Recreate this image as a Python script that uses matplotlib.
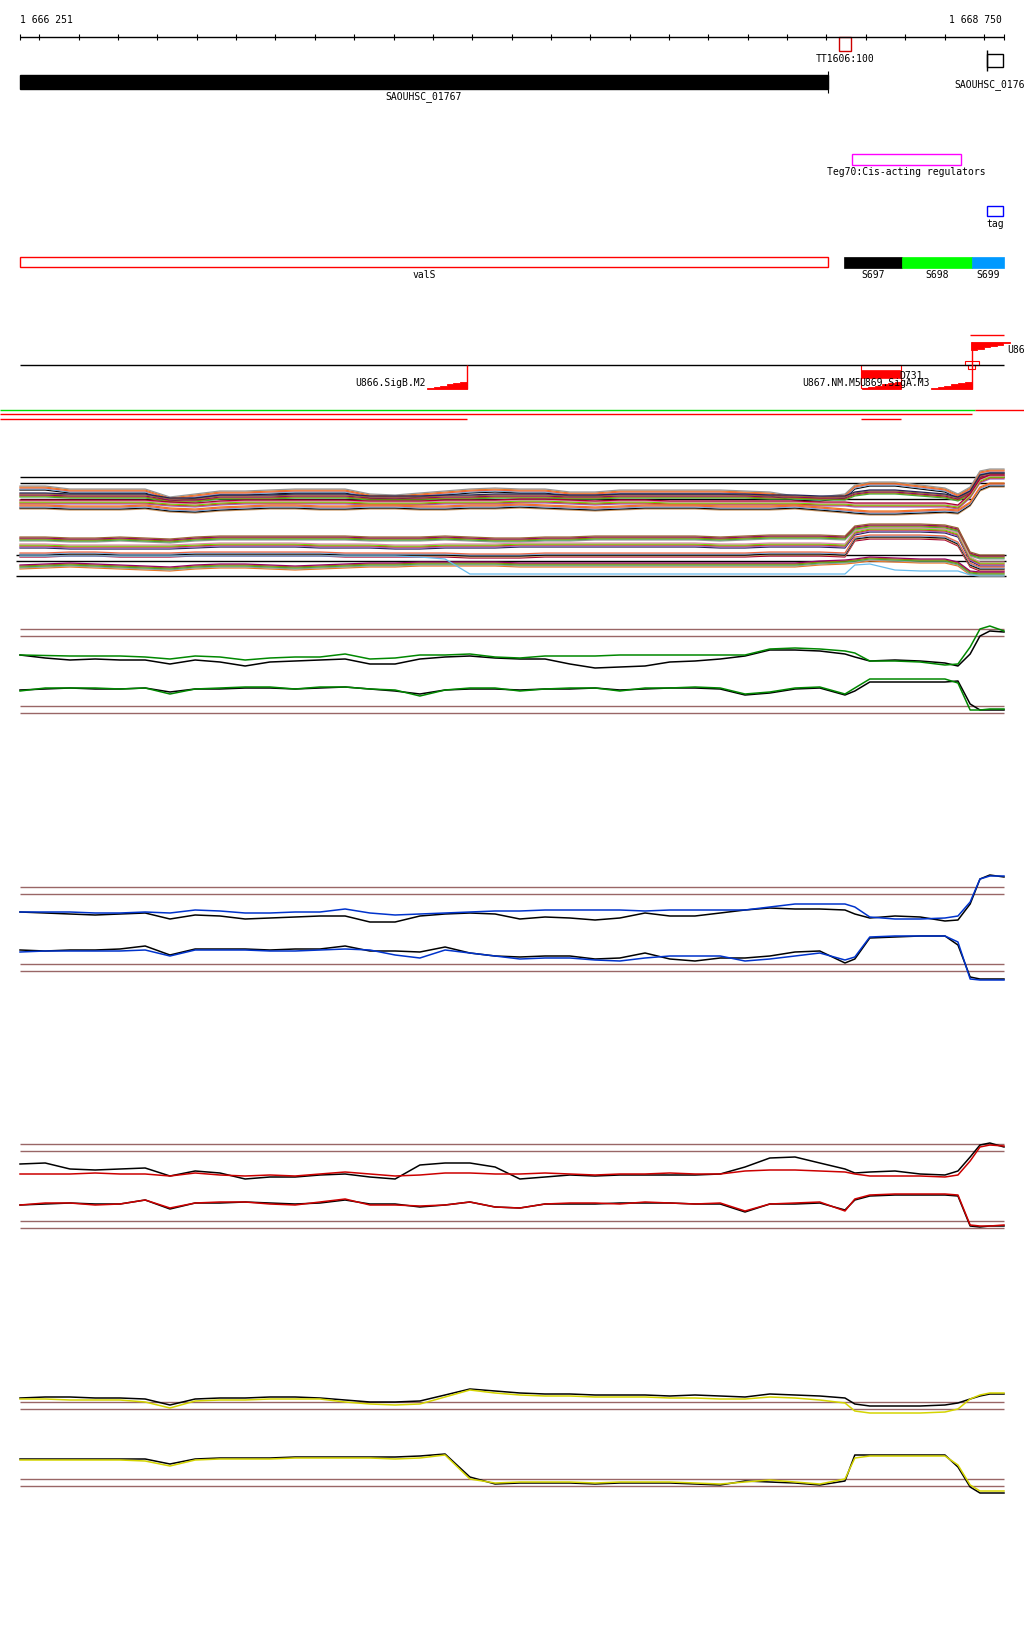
import numpy as np
import matplotlib.pyplot as plt
from matplotlib.patches import Rectangle, Polygon

# genome window shown (bp)
view_start = 1666251
view_end = 1668750
px_per_bp = 984 / 2500

# sample positions shared by all signal tracks (bp)
pos = [1666251, 1666315, 1666378, 1666442, 1666505, 1666569, 1666632, 1666696, 1666759, 1666823,
       1666886, 1666950, 1667013, 1667077, 1667140, 1667204, 1667267, 1667331, 1667394, 1667458,
       1667521, 1667585, 1667648, 1667712, 1667775, 1667839, 1667902, 1667966, 1668030, 1668093,
       1668156, 1668220, 1668283, 1668347, 1668372, 1668410, 1668474, 1668538, 1668601, 1668634,
       1668665, 1668690, 1668715, 1668751]

# annotation features (bp)
gene_01767 = (1666251, 1668304)
gene_01766 = (1668708, 1668748)
tt1606 = (1668333, 1668363)
teg70 = (1668365, 1668641)
tag = (1668708, 1668748)
segments = [('S697', 1668344, 1668492, '#000000'),
            ('S698', 1668492, 1668670, '#00ff00'),
            ('S699', 1668670, 1668751, '#0099ff')]
promoters_down = [('U866.SigB.M2', 1667285, 1667386),
                  ('U867.NM.M5', 1668390, 1668490),
                  ('U869.SigA.M3', 1668565, 1668669)]
promoter_up = ('U868.SigA.M1', 1668667, 1668766)
d731 = (1668388, 1668490)

# thresholds of the expression panels
thresholds = [13.0, 12.3, 5.3, 4.6]

# green panel
green_up = [10.4, 10.35, 10.3, 10.3, 10.3, 10.2, 10.0, 10.3, 10.2, 9.9,
            10.1, 10.2, 10.2, 10.5, 10.0, 10.1, 10.4, 10.4, 10.5, 10.2,
            10.1, 10.3, 10.3, 10.3, 10.4, 10.4, 10.4, 10.4, 10.4, 10.4,
            11.0, 11.1, 11.0, 10.8, 10.6, 9.8, 9.8, 9.7, 9.4, 9.5,
            11.2, 13.0, 13.3, 12.8]
green_up_ref = [10.4, 10.1, 9.9, 10.0, 9.9, 9.9, 9.5, 9.9, 9.7, 9.3,
                9.7, 9.8, 9.9, 10.0, 9.5, 9.5, 10.0, 10.2, 10.3, 10.1,
                10.0, 10.0, 9.5, 9.1, 9.2, 9.3, 9.7, 9.8, 10.0, 10.3,
                10.9, 10.9, 10.8, 10.5, 10.2, 9.8, 9.9, 9.8, 9.6, 9.3,
                10.5, 12.3, 12.8, 12.7]
green_dn = [6.8, 7.1, 7.1, 7.1, 7.0, 7.1, 6.5, 7.0, 7.1, 7.2,
            7.2, 7.0, 7.2, 7.2, 7.0, 6.9, 6.3, 6.9, 7.1, 7.1,
            6.8, 7.0, 7.1, 7.1, 6.8, 7.1, 7.1, 7.2, 7.1, 6.5,
            6.7, 7.1, 7.2, 6.5, 7.1, 8.0, 8.0, 8.0, 8.0, 7.6,
            4.9, 4.9, 5.0, 5.0]
green_dn_ref = [6.9, 7.0, 7.1, 7.0, 7.0, 7.1, 6.7, 7.0, 7.0, 7.1,
                7.1, 7.0, 7.1, 7.2, 7.0, 6.8, 6.5, 6.9, 7.0, 7.0,
                6.9, 7.0, 7.0, 7.1, 6.9, 7.0, 7.1, 7.1, 7.0, 6.4,
                6.6, 7.0, 7.1, 6.4, 6.8, 7.7, 7.7, 7.7, 7.7, 7.8,
                5.5, 4.9, 4.9, 4.9]

# blue panel
blue_up = [10.5, 10.5, 10.5, 10.4, 10.4, 10.5, 10.4, 10.7, 10.6, 10.4,
           10.4, 10.5, 10.5, 10.8, 10.4, 10.2, 10.3, 10.4, 10.5, 10.6,
           10.6, 10.7, 10.7, 10.7, 10.7, 10.6, 10.7, 10.7, 10.7, 10.7,
           11.0, 11.3, 11.3, 11.3, 11.0, 10.0, 9.8, 9.8, 9.9, 10.1,
           11.5, 13.8, 14.1, 14.1]
blue_up_ref = [10.5, 10.4, 10.3, 10.2, 10.3, 10.4, 9.8, 10.2, 10.1, 9.8,
               9.9, 10.0, 10.1, 10.1, 9.5, 9.5, 10.1, 10.3, 10.4, 10.3,
               9.8, 10.0, 9.9, 9.7, 9.9, 10.4, 10.1, 10.1, 10.4, 10.7,
               10.9, 10.8, 10.8, 10.7, 10.3, 9.9, 10.1, 10.0, 9.6, 9.7,
               11.3, 13.8, 14.2, 14.0]
blue_dn = [6.5, 6.6, 6.6, 6.6, 6.6, 6.7, 6.1, 6.7, 6.7, 6.7,
           6.6, 6.6, 6.7, 6.8, 6.7, 6.2, 5.9, 6.7, 6.4, 6.1,
           5.8, 5.9, 5.9, 5.7, 5.6, 5.9, 6.1, 6.1, 6.1, 5.6,
           5.8, 6.1, 6.4, 5.7, 6.0, 8.0, 8.1, 8.1, 8.1, 7.5,
           3.8, 3.7, 3.7, 3.7]
blue_dn_ref = [6.7, 6.6, 6.7, 6.7, 6.8, 7.1, 6.2, 6.8, 6.8, 6.8,
               6.7, 6.8, 6.8, 7.1, 6.6, 6.6, 6.5, 7.0, 6.4, 6.1,
               6.0, 6.1, 6.1, 5.8, 5.9, 6.4, 5.8, 5.6, 5.9, 5.9,
               6.1, 6.5, 6.6, 5.4, 5.8, 7.9, 8.0, 8.1, 8.1, 7.2,
               4.0, 3.8, 3.8, 3.8]

# red panel
red_up = [10.0, 10.0, 10.0, 10.1, 10.0, 10.0, 9.8, 10.1, 9.9, 9.8,
          9.9, 9.8, 10.0, 10.2, 10.0, 9.8, 9.9, 10.1, 10.1, 10.0,
          10.0, 10.1, 10.0, 9.9, 10.0, 10.0, 10.1, 10.0, 10.0, 10.3,
          10.4, 10.4, 10.3, 10.2, 10.0, 9.8, 9.8, 9.8, 9.7, 9.9,
          11.3, 12.7, 12.9, 12.8]
red_up_ref = [11.0, 11.1, 10.5, 10.4, 10.5, 10.6, 9.8, 10.3, 10.1, 9.5,
              9.7, 9.7, 9.9, 10.0, 9.7, 9.5, 10.9, 11.1, 11.1, 10.7,
              9.5, 9.7, 9.9, 9.8, 9.9, 9.9, 9.9, 9.9, 10.0, 10.7,
              11.6, 11.7, 11.1, 10.5, 10.1, 10.2, 10.3, 10.0, 9.9, 10.3,
              11.7, 12.9, 13.1, 12.7]
red_dn = [6.9, 7.1, 7.1, 6.9, 7.0, 7.4, 6.6, 7.1, 7.2, 7.2,
          7.0, 6.9, 7.2, 7.5, 6.9, 6.9, 6.8, 6.9, 7.2, 6.7,
          6.6, 7.0, 7.1, 7.1, 7.0, 7.2, 7.1, 7.0, 7.1, 6.3,
          7.0, 7.1, 7.2, 6.3, 7.5, 7.9, 8.0, 8.0, 8.0, 7.9,
          4.9, 4.8, 4.8, 4.9]
red_dn_ref = [6.9, 7.0, 7.1, 7.0, 7.0, 7.4, 6.5, 7.1, 7.1, 7.2,
              7.1, 7.0, 7.1, 7.4, 7.0, 7.0, 6.7, 6.9, 7.2, 6.7,
              6.6, 7.0, 7.0, 7.0, 7.1, 7.1, 7.1, 7.0, 7.0, 6.2,
              7.0, 7.0, 7.1, 6.4, 7.4, 7.8, 7.9, 7.9, 7.9, 7.8,
              4.8, 4.7, 4.8, 4.8]

# yellow panel
yellow_up = [13.3, 13.3, 13.2, 13.2, 13.2, 13.0, 12.4, 13.1, 13.2, 13.2,
             13.3, 13.3, 13.3, 13.0, 12.8, 12.7, 12.8, 13.5, 14.2, 13.9,
             13.7, 13.6, 13.6, 13.5, 13.5, 13.5, 13.4, 13.4, 13.3, 13.3,
             13.5, 13.4, 13.2, 12.9, 12.1, 11.9, 11.9, 11.9, 12.0, 12.3,
             13.3, 13.7, 13.9, 13.9]
yellow_up_ref = [13.4, 13.5, 13.5, 13.4, 13.4, 13.3, 12.7, 13.3, 13.4, 13.4,
                 13.5, 13.5, 13.4, 13.2, 13.0, 13.0, 13.1, 13.7, 14.3, 14.1,
                 13.9, 13.8, 13.8, 13.7, 13.7, 13.7, 13.6, 13.7, 13.6, 13.5,
                 13.8, 13.7, 13.6, 13.4, 12.8, 12.6, 12.6, 12.6, 12.7, 12.9,
                 13.3, 13.6, 13.8, 13.8]
yellow_dn = [7.2, 7.2, 7.2, 7.2, 7.2, 7.1, 6.6, 7.2, 7.3, 7.3,
             7.3, 7.4, 7.4, 7.4, 7.4, 7.3, 7.4, 7.7, 5.3, 4.9,
             5.0, 5.0, 5.0, 4.9, 5.0, 5.0, 5.0, 4.9, 4.8, 5.0,
             5.2, 5.0, 4.8, 5.3, 7.4, 7.6, 7.6, 7.6, 7.6, 6.7,
             4.7, 4.1, 4.1, 4.1]
yellow_dn_ref = [7.3, 7.3, 7.3, 7.3, 7.3, 7.3, 6.8, 7.3, 7.4, 7.4,
                 7.4, 7.5, 7.5, 7.5, 7.5, 7.5, 7.6, 7.8, 5.5, 4.8,
                 4.9, 4.9, 4.9, 4.8, 4.9, 4.9, 4.9, 4.8, 4.7, 5.1,
                 5.0, 4.9, 4.7, 5.1, 7.7, 7.7, 7.7, 7.7, 7.7, 6.5,
                 4.5, 3.9, 3.9, 3.9]

# multi-sample panel: typical profiles of the sample bundle
mix_up_hi = [11.1, 11.1, 10.8, 10.8, 10.8, 10.8, 10.0, 10.3, 10.6, 10.6,
             10.7, 10.8, 10.8, 10.8, 10.3, 10.2, 10.4, 10.6, 10.8, 10.9,
             10.8, 10.8, 10.5, 10.5, 10.7, 10.7, 10.7, 10.7, 10.7, 10.6,
             10.5, 10.1, 10.0, 10.3, 11.2, 11.5, 11.5, 11.2, 10.9, 10.3,
             11.0, 12.6, 12.8, 12.8]
mix_up_midhi = [10.4, 10.4, 10.3, 10.3, 10.3, 10.3, 9.9, 9.9, 10.2, 10.2,
                10.2, 10.3, 10.3, 10.3, 10.1, 10.1, 10.1, 10.2, 10.2, 10.3,
                10.3, 10.3, 10.2, 10.2, 10.3, 10.3, 10.3, 10.3, 10.3, 10.3,
                10.2, 10.2, 10.1, 10.1, 10.5, 10.7, 10.7, 10.5, 10.3, 10.0,
                10.6, 12.2, 12.4, 12.4]
mix_up_mid = [9.7, 9.7, 9.7, 9.7, 9.7, 9.7, 9.5, 9.4, 9.6, 9.7,
              9.7, 9.7, 9.7, 9.7, 9.6, 9.6, 9.6, 9.7, 9.7, 9.7,
              9.8, 9.8, 9.7, 9.6, 9.7, 9.7, 9.6, 9.6, 9.6, 9.6,
              9.6, 9.6, 9.5, 9.5, 9.4, 9.4, 9.4, 9.4, 9.4, 9.2,
              10.3, 11.8, 12.2, 12.2]
mix_up_lo = [9.2, 9.2, 9.1, 9.1, 9.1, 9.2, 8.9, 8.8, 9.0, 9.1,
             9.2, 9.2, 9.1, 9.1, 9.2, 9.2, 9.1, 9.1, 9.2, 9.2,
             9.3, 9.2, 9.1, 9.0, 9.1, 9.2, 9.2, 9.2, 9.1, 9.1,
             9.1, 9.2, 9.0, 8.8, 8.7, 8.6, 8.6, 8.7, 8.8, 8.7,
             9.5, 11.0, 11.4, 11.4]
mix_dn_hi = [6.0, 6.0, 5.9, 5.9, 6.0, 5.9, 5.8, 6.0, 6.1, 6.1,
             6.1, 6.1, 6.1, 6.1, 6.0, 6.0, 6.0, 6.1, 6.0, 5.9,
             5.9, 6.0, 6.0, 6.1, 6.1, 6.1, 6.1, 6.1, 6.0, 6.1,
             6.2, 6.2, 6.2, 6.1, 7.1, 7.3, 7.3, 7.3, 7.2, 6.9,
             4.5, 4.2, 4.2, 4.2]
mix_dn_mid = [5.3, 5.3, 5.2, 5.2, 5.2, 5.2, 5.2, 5.3, 5.4, 5.4,
              5.4, 5.4, 5.3, 5.3, 5.3, 5.2, 5.2, 5.3, 5.3, 5.3,
              5.4, 5.4, 5.4, 5.4, 5.4, 5.4, 5.4, 5.4, 5.3, 5.3,
              5.4, 5.4, 5.4, 5.3, 6.6, 6.9, 6.9, 6.9, 6.8, 6.4,
              4.0, 3.5, 3.5, 3.5]
mix_dn_lo1 = [4.4, 4.4, 4.5, 4.5, 4.4, 4.4, 4.4, 4.5, 4.5, 4.5,
              4.5, 4.5, 4.5, 4.4, 4.4, 4.4, 4.4, 4.4, 4.3, 4.3,
              4.3, 4.4, 4.4, 4.4, 4.4, 4.4, 4.4, 4.4, 4.4, 4.4,
              4.5, 4.5, 4.5, 4.4, 6.0, 6.2, 6.2, 6.2, 6.1, 5.5,
              3.4, 3.0, 3.0, 3.0]
mix_dn_lo2 = [3.2, 3.3, 3.4, 3.3, 3.2, 3.1, 3.0, 3.2, 3.3, 3.3,
              3.2, 3.1, 3.2, 3.3, 3.4, 3.4, 3.5, 3.5, 3.5, 3.5,
              3.4, 3.4, 3.4, 3.4, 3.4, 3.4, 3.4, 3.4, 3.4, 3.4,
              3.4, 3.4, 3.6, 3.7, 3.8, 4.0, 3.9, 3.8, 3.8, 3.5,
              2.6, 2.5, 2.5, 2.5]
mix_lightblue = [4.3, 4.3, 4.3, 4.3, 4.3, 4.3, 4.3, 4.3, 4.3, 4.3,
                 4.3, 4.3, 4.3, 4.3, 4.3, 4.3, 4.2, 4.0, 2.5, 2.5,
                 2.5, 2.5, 2.5, 2.5, 2.5, 2.5, 2.5, 2.5, 2.5, 2.5,
                 2.5, 2.5, 2.5, 2.5, 3.4, 3.5, 2.9, 2.8, 2.8, 2.8,
                 2.4, 2.3, 2.3, 2.3]
mix_spread = [-0.2, -0.1, 0.0, 0.1, 0.2]
mix_colors = ['#000000', '#cc4422', '#888800', '#77aadd', '#66dd00', '#990066',
              '#ee6644', '#dd88aa', '#996633', '#ee7722', '#aa0033', '#222255',
              '#999999', '#cc9966', '#9966cc', '#44aa44']
mix_up_levels = [12.17, 11.57]
mix_dn_levels = [4.4, 3.8]

font = dict(family='DejaVu Sans Mono', fontsize=7, color='black')

fig = plt.figure(figsize=(10.24, 16.40), dpi=100)
x0 = view_start - 20 / px_per_bp
x1 = view_start + 1004 / px_per_bp
bp_end = view_end + 1

ax = fig.add_axes([0, 0, 1, 1])
ax.set_xlim(x0, x1)
ax.set_ylim(1640, 0)
ax.axis('off')

# ruler
ax.text(view_start, 20, '1 666 251', ha='left', va='center', **font)
ax.text(view_end - 5, 20, '1 668 750', ha='right', va='center', **font)
ax.hlines(38, view_start, bp_end, color='black', lw=1)
ticks = [view_start] + list(range(1666300, view_end, 100)) + [view_end]
ax.vlines(ticks, 35, 41, color='black', lw=0.8)


def box(a, b, y0, y1, edge, fill=None, lw=1.0):
    ax.add_patch(Rectangle((a, y0), b - a, y1 - y0, facecolor=fill if fill else 'none',
                           edgecolor=edge, lw=lw))


def stairs(a, b, base, height, up=False, n=6, rising=True):
    # stepped right-angle triangle used for promoter marks
    xs = np.linspace(a, b, n + 1)
    pts = [(a, base)]
    for i in range(n):
        k = (i + 1) / n if rising else (n - i) / n
        h = height * k
        yy = base + h if up else base - h
        pts += [(xs[i], yy), (xs[i + 1], yy)]
    pts.append((b, base))
    ax.add_patch(Polygon(pts, closed=True, facecolor='red', edgecolor='red', lw=0.6))


# TT1606 terminator
box(tt1606[0], tt1606[1], 38, 52, '#cc0000')
ax.text(sum(tt1606) / 2, 59, 'TT1606:100', ha='center', va='center', **font)

# genes
box(gene_01767[0], gene_01767[1], 76, 90, 'black', 'black')
ax.vlines(gene_01767[1], 72, 94, color='black', lw=0.8)
ax.text(sum(gene_01767) / 2, 97, 'SAOUHSC_01767', ha='center', va='center', **font)
ax.vlines(gene_01766[0], 51, 72, color='black', lw=1)
box(gene_01766[0], gene_01766[1], 55, 68, 'black')
ax.text(1668626, 85, 'SAOUHSC_01766', ha='left', va='center', **font)

# regulators
box(teg70[0], teg70[1], 155, 166, '#ff00ff')
ax.text(sum(teg70) / 2, 172, 'Teg70:Cis-acting regulators', ha='center', va='center', **font)
box(tag[0], tag[1], 207, 217, '#0000ff')
ax.text(sum(tag) / 2, 224, 'tag', ha='center', va='center', **font)

# transcript segments
box(gene_01767[0], gene_01767[1], 258, 268, '#ff0000')
ax.text(sum(gene_01767) / 2, 275, 'valS', ha='center', va='center', **font)
for name, a, b, c in segments:
    box(a, b, 258, 269, c, c, lw=0.5)
    ax.text((a + b) / 2, 275, name, ha='center', va='center', **font)

# promoters / transcript starts
ax.hlines(366, view_start, bp_end, color='black', lw=1)
for name, a, b in promoters_down:
    stairs(a, b, 390, 7)
    ax.text(a - 3, 383, name, ha='right', va='center', **font)
ax.vlines(promoters_down[0][2], 366, 390, color='red', lw=1)
ax.vlines(promoters_down[2][2], 343, 390, color='red', lw=1)
box(d731[0], d731[1], 366, 389, 'red', lw=0.8)
box(d731[0], d731[1] - 3, 371, 379, 'red', 'red', lw=0.5)
ax.text(d731[1] - 5, 376, 'D731', ha='left', va='center', **font)
stairs(promoter_up[1], promoter_up[2], 343, 8, up=True, rising=False)
ax.hlines(336, promoter_up[1] - 2, bp_end, color='red', lw=1)
box(1668652, 1668688, 362, 366, 'red', lw=0.8)
box(1668660, 1668677, 366, 370, 'red', lw=0.8)
ax.text(1668758, 350, promoter_up[0], ha='left', va='center', **font)

# transcript coverage lines
ax.hlines(411, x0, 1668677, color='#00dd00', lw=1)
ax.hlines(411, 1668677, x1, color='red', lw=1)
ax.hlines(415, x0, 1668670, color='red', lw=1)
ax.hlines(420, x0, promoters_down[0][2], color='red', lw=1)
ax.hlines(420, d731[0], d731[1], color='red', lw=1)


def signal_axes(top_px, h_px=160):
    a = fig.add_axes([0, 1 - (top_px + h_px) / 1640, 1, h_px / 1640])
    a.set_xlim(x0, x1)
    a.set_ylim(0, h_px / 10)
    a.axis('off')
    a.patch.set_alpha(0)
    return a


# multi-sample panel
am = signal_axes(440)
am.hlines(mix_up_levels, view_start, bp_end, color='black', lw=1)
am.hlines(mix_dn_levels, view_start - 10, bp_end + 5, color='black', lw=1)
am.hlines(10.0, view_start, 1668670, color='black', lw=1)
am.hlines(2.3, view_start - 10, bp_end + 5, color='black', lw=1)
profiles = [mix_up_hi, mix_up_midhi, mix_up_mid, mix_up_lo,
            mix_dn_hi, mix_dn_mid, mix_dn_lo1, mix_dn_lo2]
k = 0
for prof in profiles:
    for d in mix_spread:
        am.plot(pos, np.array(prof) + d, color=mix_colors[k % len(mix_colors)], lw=0.9)
        k += 3
am.plot(pos, mix_lightblue, color='#66bbee', lw=0.9)

# expression panels
panels = [(600, '#008800', green_up, green_up_ref, green_dn, green_dn_ref),
          (858, '#0033cc', blue_up, blue_up_ref, blue_dn, blue_dn_ref),
          (1115, '#cc0000', red_up, red_up_ref, red_dn, red_dn_ref),
          (1373, '#d4d400', yellow_up, yellow_up_ref, yellow_dn, yellow_dn_ref)]
for top, col, up, up_ref, dn, dn_ref in panels:
    a = signal_axes(top)
    a.hlines(thresholds, view_start, bp_end, color='#996666', lw=1)
    a.plot(pos, up_ref, color='black', lw=1.1)
    a.plot(pos, dn_ref, color='black', lw=1.1)
    a.plot(pos, up, color=col, lw=1.1)
    a.plot(pos, dn, color=col, lw=1.1)

fig.savefig('out.png', dpi=100)
